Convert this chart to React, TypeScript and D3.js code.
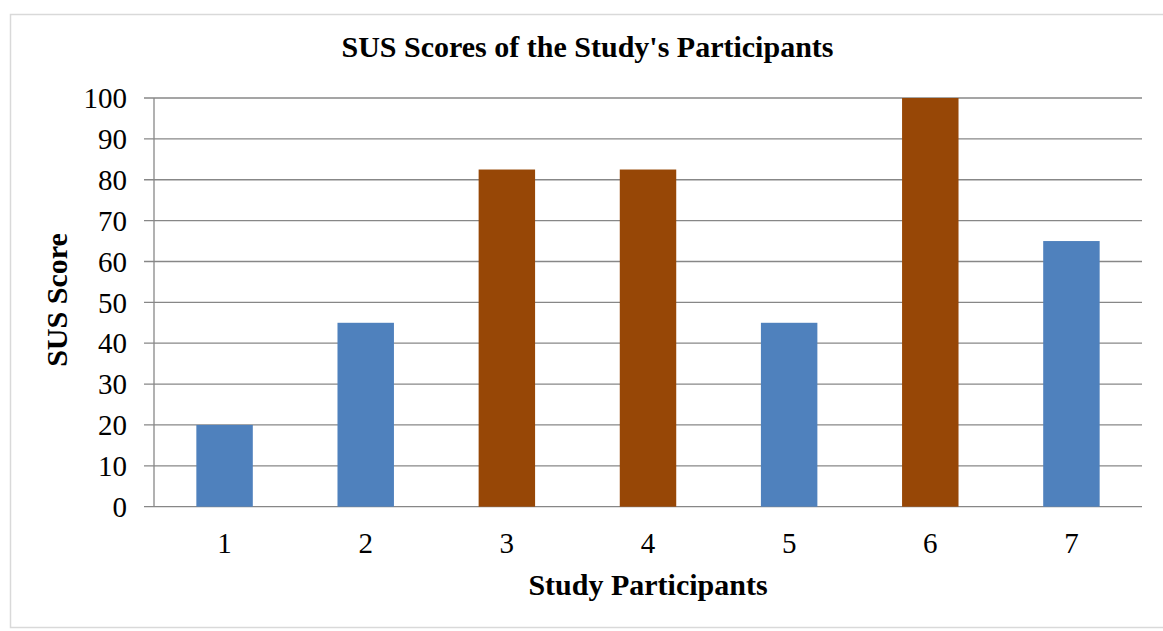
import React from "react";
import * as d3 from "d3";

const participants = ["1", "2", "3", "4", "5", "6", "7"];
const susScores = [20, 45, 82.5, 82.5, 45, 100, 65];
const barGroups = ["low", "low", "high", "high", "low", "high", "low"];
const yTicks = [0, 10, 20, 30, 40, 50, 60, 70, 80, 90, 100];
const title = "SUS Scores of the Study's Participants";
const xTitle = "Study Participants";
const yTitle = "SUS Score";

const W = 1163;
const H = 631;
const plot = { left: 154, right: 1142, top: 98, bottom: 506.7 };
const colors: Record<string, string> = { low: "#4F81BD", high: "#974706" };
const FONT = "'Liberation Serif', 'Times New Roman', serif";

export default function App() {
  const x = d3
    .scaleBand<string>()
    .domain(participants)
    .range([plot.left, plot.right])
    .paddingInner(0.6)
    .paddingOuter(0.3);
  const y = d3.scaleLinear().domain([0, 100]).range([plot.bottom, plot.top]);

  return (
    <svg
      width={W}
      height={H}
      style={{ position: "absolute", left: 0, top: 0, background: "#fff" }}
    >
      <rect x={10.5} y={14.5} width={1160} height={613} fill="#fff" stroke="#d9d9d9" strokeWidth={1.5} />
      <text x={587.5} y={56.5} textAnchor="middle" fontFamily={FONT} fontWeight="bold" fontSize={30} fill="#000">
        {title}
      </text>
      {yTicks.map((t) => (
        <g key={t}>
          <line x1={144} x2={plot.right} y1={y(t)} y2={y(t)} stroke="#878787" strokeWidth={1.3} />
          <text x={127} y={y(t)} dy="0.35em" textAnchor="end" fontFamily={FONT} fontSize={29} fill="#000">
            {t}
          </text>
        </g>
      ))}
      <line x1={plot.left} x2={plot.left} y1={plot.top} y2={plot.bottom} stroke="#878787" strokeWidth={1.3} />
      {participants.map((p, i) => (
        <rect
          key={p}
          x={x(p)}
          y={y(susScores[i])}
          width={x.bandwidth()}
          height={plot.bottom - y(susScores[i])}
          fill={colors[barGroups[i]]}
        />
      ))}
      {participants.map((p) => (
        <text
          key={p}
          x={(x(p) as number) + x.bandwidth() / 2}
          y={553}
          textAnchor="middle"
          fontFamily={FONT}
          fontSize={29}
          fill="#000"
        >
          {p}
        </text>
      ))}
      <text
        x={(plot.left + plot.right) / 2}
        y={595}
        textAnchor="middle"
        fontFamily={FONT}
        fontWeight="bold"
        fontSize={30}
        fill="#000"
      >
        {xTitle}
      </text>
      <text
        transform={`translate(67,300) rotate(-90)`}
        textAnchor="middle"
        fontFamily={FONT}
        fontWeight="bold"
        fontSize={30}
        fill="#000"
      >
        {yTitle}
      </text>
    </svg>
  );
}
